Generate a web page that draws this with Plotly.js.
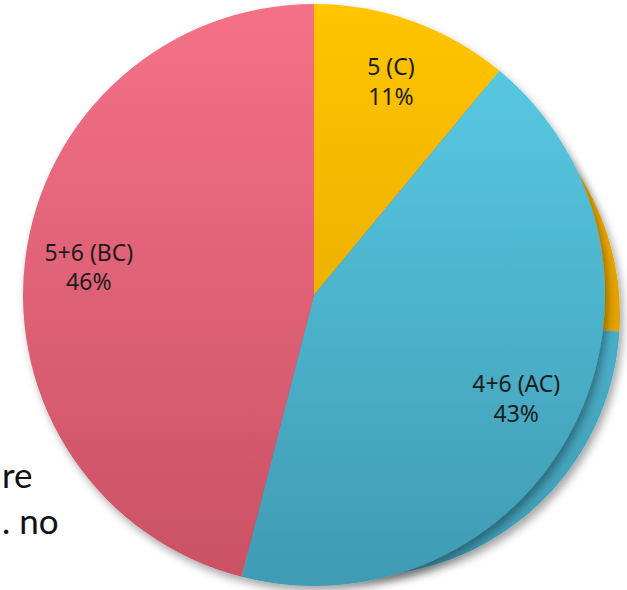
<!DOCTYPE html>
<html>
<head>
<meta charset="utf-8">
<script src="https://cdn.plot.ly/plotly-3.0.1.min.js"></script>
<style>
  html, body { margin: 0; padding: 0; background: #ffffff; }
  #chart { width: 627px; height: 590px; }
</style>
</head>
<body>
<div id="chart"></div>
<script>
// Shares by group (percent of total)
const groupLabels = ['5 (C)', '4+6 (AC)', '5+6 (BC)'];
const groupShares = [11, 43, 46];

// Slide text fragments sitting beside the chart
const sideTexts = ['re', '. no'];

// Slice shading: lighter at the top of each disc, deeper at the bottom
const frontTop    = ['#FFC503', '#5BCDE7', '#F57187'];
const frontBottom = ['#DC9E00', '#3F9BB3', '#C95163'];
const backTop     = ['#F0AE00', '#56C3DD', '#E9667A'];
const backBottom  = ['#D69800', '#3F9BB3', '#C44E60'];

function mix(a, b) {
  const pa = parseInt(a.slice(1), 16), pb = parseInt(b.slice(1), 16);
  const ch = s => [(s >> 16) & 255, (s >> 8) & 255, s & 255];
  const ca = ch(pa), cb = ch(pb);
  return 'rgb(' + ca.map((v, k) => Math.round((v + cb[k]) / 2)).join(',') + ')';
}

const W = 627, H = 590;
const labelFont = { family: '"Noto Sans", "Open Sans", sans-serif', size: 23, color: '#1c1c1c' };
const frontDomain = { x: [23 / W, 605 / W], y: [4 / H, 586 / H] };

// Rear copy of the pie, turned and set back behind the main one
const backPie = {
  type: 'pie',
  labels: groupLabels,
  values: groupShares,
  sort: false,
  direction: 'clockwise',
  rotation: 54,
  textinfo: 'none',
  hoverinfo: 'skip',
  showlegend: false,
  marker: { colors: backTop.map((c, i) => mix(c, backBottom[i])), line: { width: 0 } },
  domain: { x: [98 / W, 620 / W], y: [14 / H, 536 / H] }
};

// Main pie
const frontPie = {
  type: 'pie',
  labels: groupLabels,
  values: groupShares,
  sort: false,
  direction: 'clockwise',
  rotation: 0,
  textinfo: 'none',
  hoverinfo: 'skip',
  showlegend: false,
  marker: { colors: frontTop.map((c, i) => mix(c, frontBottom[i])), line: { width: 0 } },
  domain: frontDomain
};

// Clear ring over the main pie that carries the slice labels out toward the rim
const labelRing = {
  type: 'pie',
  labels: groupLabels,
  values: groupShares,
  sort: false,
  direction: 'clockwise',
  rotation: 0,
  hole: 0.56,
  texttemplate: '%{label}<br>%{percent}',
  textposition: 'inside',
  insidetextorientation: 'horizontal',
  insidetextfont: labelFont,
  textfont: labelFont,
  hoverinfo: 'skip',
  showlegend: false,
  marker: { colors: ['rgba(0,0,0,0)', 'rgba(0,0,0,0)', 'rgba(0,0,0,0)'], line: { width: 0 } },
  domain: frontDomain
};

const sideFont = { family: 'Lato, "Open Sans", sans-serif', size: 35, color: '#111111' };

const layout = {
  width: W,
  height: H,
  margin: { l: 0, r: 0, t: 0, b: 0 },
  paper_bgcolor: '#ffffff',
  plot_bgcolor: '#ffffff',
  showlegend: false,
  annotations: [
    { text: sideTexts[0], xref: 'paper', yref: 'paper', x: 0, y: 1 - 474 / H,
      xanchor: 'left', yanchor: 'middle', showarrow: false, font: sideFont },
    { text: sideTexts[1], xref: 'paper', yref: 'paper', x: 0, y: 1 - 520 / H,
      xanchor: 'left', yanchor: 'middle', showarrow: false, font: sideFont }
  ]
};

Plotly.newPlot('chart', [backPie, frontPie, labelRing], layout, { staticPlot: true, displayModeBar: false })
  .then(gd => {
    const ns = 'http://www.w3.org/2000/svg';
    const svg = gd.querySelector('svg.main-svg');
    let defs = svg.querySelector('defs');
    if (!defs) { defs = document.createElementNS(ns, 'defs'); svg.insertBefore(defs, svg.firstChild); }

    // soft cast shadow under each disc
    const filter = document.createElementNS(ns, 'filter');
    filter.setAttribute('id', 'disc-shadow');
    filter.setAttribute('x', '-20%'); filter.setAttribute('y', '-20%');
    filter.setAttribute('width', '140%'); filter.setAttribute('height', '140%');
    const drop = document.createElementNS(ns, 'feDropShadow');
    drop.setAttribute('dx', '3'); drop.setAttribute('dy', '5');
    drop.setAttribute('stdDeviation', '4');
    drop.setAttribute('flood-color', '#000000');
    drop.setAttribute('flood-opacity', '0.35');
    filter.appendChild(drop);
    defs.appendChild(filter);

    const shades = [[backTop, backBottom], [frontTop, frontBottom]];
    gd.querySelectorAll('.pielayer .trace').forEach((g, t) => {
      if (t >= shades.length) return; // label ring stays clear
      g.setAttribute('filter', 'url(#disc-shadow)');
      const paths = Array.from(g.querySelectorAll('path.surface'));
      let top = Infinity, bottom = -Infinity;
      paths.forEach(p => {
        const b = p.getBBox();
        top = Math.min(top, b.y);
        bottom = Math.max(bottom, b.y + b.height);
      });
      paths.forEach((p, i) => {
        const id = 'slice-shade-' + t + '-' + i;
        const grad = document.createElementNS(ns, 'linearGradient');
        grad.setAttribute('id', id);
        grad.setAttribute('gradientUnits', 'userSpaceOnUse');
        grad.setAttribute('x1', '0'); grad.setAttribute('x2', '0');
        grad.setAttribute('y1', String(top)); grad.setAttribute('y2', String(bottom));
        [[0, shades[t][0][i]], [1, shades[t][1][i]]].forEach(([o, c]) => {
          const s = document.createElementNS(ns, 'stop');
          s.setAttribute('offset', String(o));
          s.setAttribute('stop-color', c);
          grad.appendChild(s);
        });
        defs.appendChild(grad);
        p.style.fill = 'url(#' + id + ')';
      });
    });
  });
</script>
</body>
</html>
